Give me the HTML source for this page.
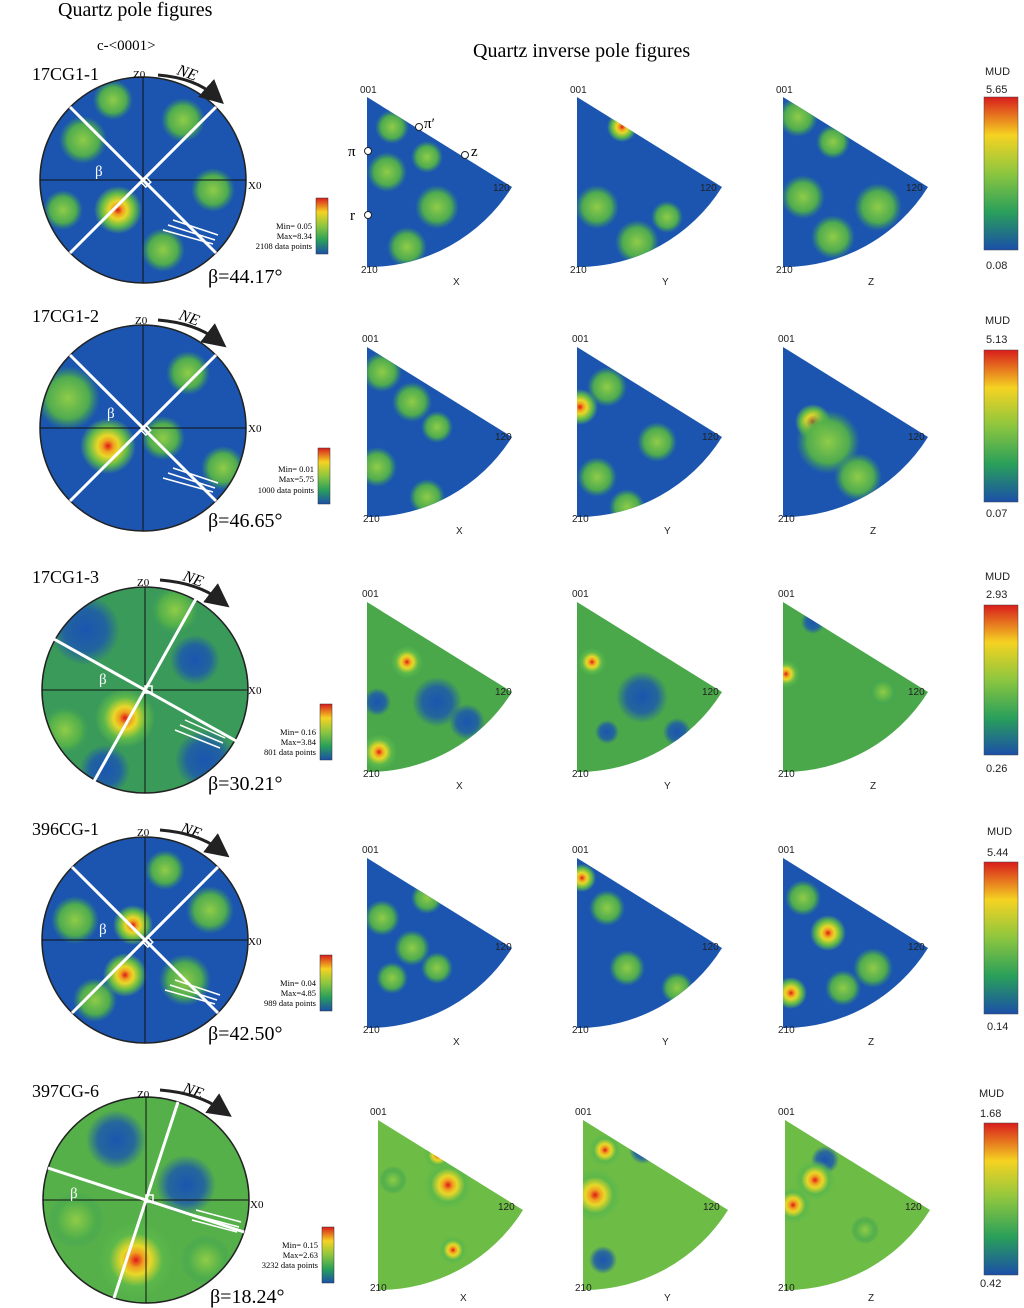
<!DOCTYPE html>
<html><head><meta charset="utf-8"><style>
html,body{margin:0;padding:0;background:#fff}
svg{display:block}
.s{font-family:"Liberation Serif",serif}
.a{font-family:"Liberation Sans",sans-serif}
</style></head><body>
<svg width="1024" height="1308" viewBox="0 0 1024 1308" xmlns="http://www.w3.org/2000/svg">
<defs>
<radialGradient id="g"><stop offset="0" stop-color="#8fcc48"/><stop offset="0.65" stop-color="#52b04a" stop-opacity="0.95"/><stop offset="1" stop-color="#3a9a5a" stop-opacity="0"/></radialGradient>
<radialGradient id="r"><stop offset="0" stop-color="#e01818"/><stop offset="0.2" stop-color="#f0a020"/><stop offset="0.38" stop-color="#e8d828"/><stop offset="0.7" stop-color="#5cb84a"/><stop offset="1" stop-color="#5cb84a" stop-opacity="0"/></radialGradient>
<radialGradient id="b"><stop offset="0" stop-color="#1b55b0"/><stop offset="0.6" stop-color="#1b55b0" stop-opacity="0.8"/><stop offset="1" stop-color="#1b55b0" stop-opacity="0"/></radialGradient>
<linearGradient id="cb" x1="0" y1="0" x2="0" y2="1"><stop offset="0" stop-color="#d81c1c"/><stop offset="0.25" stop-color="#f5d322"/><stop offset="0.5" stop-color="#8cc63f"/><stop offset="0.75" stop-color="#2aa05a"/><stop offset="1" stop-color="#1b4fa8"/></linearGradient>
<clipPath id="cc"><circle cx="0" cy="0" r="103"/></clipPath>
<clipPath id="sc"><path d="M0,0 L145,90 A170,170 0 0 1 0,170 Z"/></clipPath>
<marker id="ah" markerWidth="8" markerHeight="8" refX="4" refY="4" orient="auto"><path d="M0,0 L8,4 L0,8 Z" fill="#222"/></marker>
</defs>

<text class="s" x="58" y="16" font-size="20">Quartz pole figures</text>
<text class="s" x="97" y="50" font-size="15">c-&lt;0001&gt;</text>
<text class="s" x="473" y="57" font-size="20">Quartz inverse pole figures</text>

<g transform="translate(143,180)">
 <g clip-path="url(#cc)"><rect x="-110" y="-110" width="220" height="220" fill="#1b55b0"/>
  <circle cx="-60" cy="-40" r="24" fill="url(#g)"/><circle cx="40" cy="-60" r="22" fill="url(#g)"/><circle cx="-25" cy="30" r="24" fill="url(#r)"/><circle cx="70" cy="10" r="22" fill="url(#g)"/><circle cx="-80" cy="30" r="20" fill="url(#g)"/><circle cx="20" cy="70" r="22" fill="url(#g)"/><circle cx="-30" cy="-80" r="20" fill="url(#g)"/></g>
 <circle r="103" fill="none" stroke="#222" stroke-width="1.5"/>
 <line x1="-103" y1="0" x2="103" y2="0" stroke="#111"/><line x1="0" y1="-103" x2="0" y2="103" stroke="#111"/>
 <line x1="-73" y1="-73" x2="73" y2="73" stroke="#fff" stroke-width="3"/><line x1="73" y1="-73" x2="-73" y2="73" stroke="#fff" stroke-width="3"/>
 <rect x="0" y="-4" width="7" height="7" fill="none" stroke="#fff" stroke-width="1.5" transform="rotate(45)"/>
 <path d="M30,40 L75,55 M25,45 L72,60 M20,50 L70,64" stroke="#fff" stroke-width="1.5"/>
 <text class="s" x="-48" y="-4" font-size="15" fill="#fff">β</text>
</g>
<g transform="translate(143,428)">
 <g clip-path="url(#cc)"><rect x="-110" y="-110" width="220" height="220" fill="#1b55b0"/>
  <circle cx="-75" cy="-30" r="32" fill="url(#g)"/><circle cx="45" cy="-55" r="22" fill="url(#g)"/><circle cx="-35" cy="18" r="28" fill="url(#r)"/><circle cx="80" cy="40" r="22" fill="url(#g)"/><circle cx="20" cy="10" r="22" fill="url(#g)"/></g>
 <circle r="103" fill="none" stroke="#222" stroke-width="1.5"/>
 <line x1="-103" y1="0" x2="103" y2="0" stroke="#111"/><line x1="0" y1="-103" x2="0" y2="103" stroke="#111"/>
 <line x1="-73" y1="-73" x2="73" y2="73" stroke="#fff" stroke-width="3"/><line x1="73" y1="-73" x2="-73" y2="73" stroke="#fff" stroke-width="3"/>
 <rect x="0" y="-4" width="7" height="7" fill="none" stroke="#fff" stroke-width="1.5" transform="rotate(45)"/>
 <path d="M30,40 L75,55 M25,45 L72,60 M20,50 L70,64" stroke="#fff" stroke-width="1.5"/>
 <text class="s" x="-36" y="-10" font-size="15" fill="#fff">β</text>
</g>
<g transform="translate(145,690)">
 <g clip-path="url(#cc)"><rect x="-110" y="-110" width="220" height="220" fill="#3a9a5a"/>
  <circle cx="-60" cy="-60" r="35" fill="url(#b)"/><circle cx="50" cy="-30" r="25" fill="url(#b)"/><circle cx="60" cy="70" r="30" fill="url(#b)"/><circle cx="-20" cy="28" r="30" fill="url(#r)"/><circle cx="-80" cy="40" r="25" fill="url(#g)"/><circle cx="30" cy="-80" r="25" fill="url(#g)"/><circle cx="-40" cy="80" r="25" fill="url(#b)"/></g>
 <circle r="103" fill="none" stroke="#222" stroke-width="1.5"/>
 <line x1="-103" y1="0" x2="103" y2="0" stroke="#111"/><line x1="0" y1="-103" x2="0" y2="103" stroke="#111"/>
 <line x1="-52" y1="93" x2="52" y2="-93" stroke="#fff" stroke-width="3"/><line x1="-93" y1="-52" x2="93" y2="52" stroke="#fff" stroke-width="3"/>
 <rect x="0" y="-4" width="7" height="7" fill="none" stroke="#fff" stroke-width="1.5"/>
 <path d="M40,30 L80,48 M35,35 L78,53 M30,40 L75,58" stroke="#fff" stroke-width="1.5"/>
 <text class="s" x="-46" y="-6" font-size="15" fill="#fff">β</text>
</g>
<g transform="translate(145,940)">
 <g clip-path="url(#cc)"><rect x="-110" y="-110" width="220" height="220" fill="#1b55b0"/>
  <circle cx="-12" cy="-15" r="20" fill="url(#r)"/><circle cx="-20" cy="35" r="22" fill="url(#r)"/><circle cx="65" cy="-30" r="24" fill="url(#g)"/><circle cx="-70" cy="-20" r="24" fill="url(#g)"/><circle cx="40" cy="40" r="26" fill="url(#g)"/><circle cx="-50" cy="60" r="22" fill="url(#g)"/><circle cx="20" cy="-70" r="20" fill="url(#g)"/></g>
 <circle r="103" fill="none" stroke="#222" stroke-width="1.5"/>
 <line x1="-103" y1="0" x2="103" y2="0" stroke="#111"/><line x1="0" y1="-103" x2="0" y2="103" stroke="#111"/>
 <line x1="-73" y1="-73" x2="73" y2="73" stroke="#fff" stroke-width="3"/><line x1="73" y1="-73" x2="-73" y2="73" stroke="#fff" stroke-width="3"/>
 <rect x="0" y="-4" width="7" height="7" fill="none" stroke="#fff" stroke-width="1.5" transform="rotate(45)"/>
 <path d="M30,40 L75,55 M25,45 L72,60 M20,50 L70,64" stroke="#fff" stroke-width="1.5"/>
 <text class="s" x="-46" y="-6" font-size="15" fill="#fff">β</text>
</g>
<g transform="translate(146,1200)">
 <g clip-path="url(#cc)"><rect x="-110" y="-110" width="220" height="220" fill="#55b04a"/>
  <circle cx="-30" cy="-60" r="30" fill="url(#b)"/><circle cx="40" cy="-15" r="30" fill="url(#b)"/><circle cx="-10" cy="60" r="38" fill="url(#r)"/><circle cx="-70" cy="20" r="28" fill="url(#g)"/><circle cx="60" cy="60" r="25" fill="url(#g)"/></g>
 <circle r="103" fill="none" stroke="#222" stroke-width="1.5"/>
 <line x1="-103" y1="0" x2="103" y2="0" stroke="#111"/><line x1="0" y1="-103" x2="0" y2="103" stroke="#111"/>
 <line x1="-32" y1="98" x2="32" y2="-98" stroke="#fff" stroke-width="3"/><line x1="-98" y1="-32" x2="98" y2="32" stroke="#fff" stroke-width="3"/>
 <rect x="0" y="-5" width="7" height="7" fill="none" stroke="#fff" stroke-width="1.5"/>
 <path d="M50,10 L95,22 M48,15 L93,27 M46,20 L91,32" stroke="#fff" stroke-width="1.5"/>
 <text class="s" x="-76" y="-2" font-size="15" fill="#fff">β</text>
</g>

<g class="s" font-size="18">
<text x="32" y="80">17CG1-1</text><text x="32" y="322">17CG1-2</text><text x="32" y="583">17CG1-3</text><text x="32" y="835">396CG-1</text><text x="32" y="1097">397CG-6</text>
</g>
<g class="s" font-size="11">
<text x="133" y="78">Z0</text><text x="135" y="324">Z0</text><text x="137" y="586">Z0</text><text x="137" y="836">Z0</text><text x="137" y="1098">Z0</text>
<text x="248" y="189">X0</text><text x="248" y="432">X0</text><text x="248" y="694">X0</text><text x="248" y="945">X0</text><text x="250" y="1208">X0</text>
</g>
<g class="s" font-size="16" font-style="italic">
<text x="176" y="74" transform="rotate(20 176 74)">NE</text><text x="178" y="319" transform="rotate(20 178 319)">NE</text><text x="182" y="580" transform="rotate(20 182 580)">NE</text><text x="180" y="832" transform="rotate(20 180 832)">NE</text><text x="182" y="1092" transform="rotate(20 182 1092)">NE</text>
</g>
<g fill="none" stroke="#222" stroke-width="3" marker-end="url(#ah)">
<path d="M158,75 Q195,78 215,96"/><path d="M158,320 Q195,323 217,340"/><path d="M160,580 Q198,583 220,600"/><path d="M160,830 Q198,833 220,850"/><path d="M160,1090 Q198,1093 222,1110"/>
</g>
<g class="s" font-size="20">
<text x="208" y="283">β=44.17°</text><text x="208" y="527">β=46.65°</text><text x="208" y="790">β=30.21°</text><text x="208" y="1040">β=42.50°</text><text x="210" y="1303">β=18.24°</text>
</g>
<g stroke="#333" stroke-width="0.5">
<rect x="316" y="198" width="12" height="56" fill="url(#cb)"/><rect x="318" y="448" width="12" height="56" fill="url(#cb)"/><rect x="320" y="704" width="12" height="56" fill="url(#cb)"/><rect x="320" y="955" width="12" height="56" fill="url(#cb)"/><rect x="322" y="1227" width="12" height="56" fill="url(#cb)"/>
</g>
<g class="s" font-size="8.5" text-anchor="end">
<text x="312" y="229">Min= 0.05</text><text x="312" y="239">Max=8.34</text><text x="312" y="249">2108 data points</text>
<text x="314" y="472">Min= 0.01</text><text x="314" y="482">Max=5.75</text><text x="314" y="493">1000 data points</text>
<text x="316" y="735">Min= 0.16</text><text x="316" y="745">Max=3.84</text><text x="316" y="755">801 data points</text>
<text x="316" y="986">Min= 0.04</text><text x="316" y="996">Max=4.85</text><text x="316" y="1006">989 data points</text>
<text x="318" y="1248">Min= 0.15</text><text x="318" y="1258">Max=2.63</text><text x="318" y="1268">3232 data points</text>
</g>

<g transform="translate(367,97)"><g clip-path="url(#sc)"><rect x="-5" y="-5" width="180" height="180" fill="#1b55b0"/><circle cx="20" cy="75" r="20" fill="url(#g)"/><circle cx="70" cy="110" r="22" fill="url(#g)"/><circle cx="25" cy="30" r="17" fill="url(#g)"/><circle cx="40" cy="150" r="20" fill="url(#g)"/><circle cx="60" cy="60" r="16" fill="url(#g)"/></g></g>
<g transform="translate(577,97)"><g clip-path="url(#sc)"><rect x="-5" y="-5" width="180" height="180" fill="#1b55b0"/><circle cx="45" cy="30" r="15" fill="url(#r)"/><circle cx="20" cy="110" r="22" fill="url(#g)"/><circle cx="60" cy="145" r="22" fill="url(#g)"/><circle cx="90" cy="120" r="16" fill="url(#g)"/></g></g>
<g transform="translate(783,97)"><g clip-path="url(#sc)"><rect x="-5" y="-5" width="180" height="180" fill="#1b55b0"/><circle cx="15" cy="20" r="20" fill="url(#g)"/><circle cx="50" cy="45" r="17" fill="url(#g)"/><circle cx="95" cy="110" r="24" fill="url(#g)"/><circle cx="20" cy="100" r="22" fill="url(#g)"/><circle cx="50" cy="140" r="22" fill="url(#g)"/></g></g>
<g transform="translate(367,347)"><g clip-path="url(#sc)"><rect x="-5" y="-5" width="180" height="180" fill="#1b55b0"/><circle cx="15" cy="25" r="20" fill="url(#g)"/><circle cx="45" cy="55" r="20" fill="url(#g)"/><circle cx="70" cy="80" r="16" fill="url(#g)"/><circle cx="10" cy="120" r="20" fill="url(#g)"/><circle cx="60" cy="150" r="18" fill="url(#g)"/></g></g>
<g transform="translate(577,347)"><g clip-path="url(#sc)"><rect x="-5" y="-5" width="180" height="180" fill="#1b55b0"/><circle cx="3" cy="60" r="18" fill="url(#r)"/><circle cx="30" cy="40" r="20" fill="url(#g)"/><circle cx="80" cy="95" r="20" fill="url(#g)"/><circle cx="20" cy="130" r="20" fill="url(#g)"/><circle cx="50" cy="160" r="18" fill="url(#g)"/></g></g>
<g transform="translate(783,347)"><g clip-path="url(#sc)"><rect x="-5" y="-5" width="180" height="180" fill="#1b55b0"/><circle cx="30" cy="75" r="18" fill="url(#r)"/><circle cx="45" cy="95" r="32" fill="url(#g)"/><circle cx="75" cy="130" r="24" fill="url(#g)"/></g></g>
<g transform="translate(367,602)"><g clip-path="url(#sc)"><rect x="-5" y="-5" width="180" height="180" fill="#4aa84a"/><circle cx="70" cy="100" r="25" fill="url(#b)"/><circle cx="100" cy="120" r="18" fill="url(#b)"/><circle cx="40" cy="60" r="16" fill="url(#r)"/><circle cx="12" cy="150" r="18" fill="url(#r)"/><circle cx="10" cy="100" r="14" fill="url(#b)"/></g></g>
<g transform="translate(577,602)"><g clip-path="url(#sc)"><rect x="-5" y="-5" width="180" height="180" fill="#4aa84a"/><circle cx="15" cy="60" r="14" fill="url(#r)"/><circle cx="65" cy="95" r="26" fill="url(#b)"/><circle cx="100" cy="130" r="14" fill="url(#b)"/><circle cx="30" cy="130" r="12" fill="url(#b)"/></g></g>
<g transform="translate(783,602)"><g clip-path="url(#sc)"><rect x="-5" y="-5" width="180" height="180" fill="#4aa84a"/><circle cx="3" cy="72" r="14" fill="url(#r)"/><circle cx="30" cy="20" r="12" fill="url(#b)"/><circle cx="100" cy="90" r="14" fill="url(#g)"/></g></g>
<g transform="translate(367,858)"><g clip-path="url(#sc)"><rect x="-5" y="-5" width="180" height="180" fill="#1b55b0"/><circle cx="15" cy="60" r="18" fill="url(#g)"/><circle cx="45" cy="90" r="18" fill="url(#g)"/><circle cx="70" cy="110" r="16" fill="url(#g)"/><circle cx="25" cy="120" r="16" fill="url(#g)"/><circle cx="60" cy="40" r="16" fill="url(#g)"/></g></g>
<g transform="translate(577,858)"><g clip-path="url(#sc)"><rect x="-5" y="-5" width="180" height="180" fill="#1b55b0"/><circle cx="5" cy="20" r="14" fill="url(#r)"/><circle cx="30" cy="50" r="18" fill="url(#g)"/><circle cx="50" cy="110" r="18" fill="url(#g)"/><circle cx="100" cy="130" r="16" fill="url(#g)"/></g></g>
<g transform="translate(783,858)"><g clip-path="url(#sc)"><rect x="-5" y="-5" width="180" height="180" fill="#1b55b0"/><circle cx="45" cy="75" r="18" fill="url(#r)"/><circle cx="8" cy="135" r="16" fill="url(#r)"/><circle cx="20" cy="40" r="18" fill="url(#g)"/><circle cx="90" cy="110" r="20" fill="url(#g)"/><circle cx="60" cy="130" r="18" fill="url(#g)"/></g></g>
<g transform="translate(378,1120)"><g clip-path="url(#sc)"><rect x="-5" y="-5" width="180" height="180" fill="#6cbc46"/><circle cx="70" cy="65" r="24" fill="url(#r)"/><circle cx="60" cy="35" r="14" fill="url(#r)"/><circle cx="75" cy="130" r="14" fill="url(#r)"/><circle cx="15" cy="60" r="14" fill="url(#g)"/></g></g>
<g transform="translate(583,1120)"><g clip-path="url(#sc)"><rect x="-5" y="-5" width="180" height="180" fill="#6cbc46"/><circle cx="12" cy="75" r="26" fill="url(#r)"/><circle cx="22" cy="30" r="16" fill="url(#r)"/><circle cx="60" cy="30" r="14" fill="url(#b)"/><circle cx="20" cy="140" r="14" fill="url(#b)"/></g></g>
<g transform="translate(785,1120)"><g clip-path="url(#sc)"><rect x="-5" y="-5" width="180" height="180" fill="#6cbc46"/><circle cx="8" cy="85" r="18" fill="url(#r)"/><circle cx="40" cy="40" r="14" fill="url(#b)"/><circle cx="30" cy="60" r="20" fill="url(#r)"/><circle cx="80" cy="110" r="14" fill="url(#g)"/></g></g>

<g class="a" font-size="10" fill="#222">
<text x="360" y="93">001</text><text x="570" y="93">001</text><text x="776" y="93">001</text>
<text x="361" y="273">210</text><text x="570" y="273">210</text><text x="776" y="273">210</text>
<text x="493" y="191">120</text><text x="700" y="191">120</text><text x="906" y="191">120</text>
<text x="453" y="285">X</text><text x="662" y="285">Y</text><text x="868" y="285">Z</text>
<text x="362" y="342">001</text><text x="572" y="342">001</text><text x="778" y="342">001</text>
<text x="363" y="522">210</text><text x="572" y="522">210</text><text x="778" y="522">210</text>
<text x="495" y="440">120</text><text x="702" y="440">120</text><text x="908" y="440">120</text>
<text x="456" y="534">X</text><text x="664" y="534">Y</text><text x="870" y="534">Z</text>
<text x="362" y="597">001</text><text x="572" y="597">001</text><text x="778" y="597">001</text>
<text x="363" y="777">210</text><text x="572" y="777">210</text><text x="778" y="777">210</text>
<text x="495" y="695">120</text><text x="702" y="695">120</text><text x="908" y="695">120</text>
<text x="456" y="789">X</text><text x="664" y="789">Y</text><text x="870" y="789">Z</text>
<text x="362" y="853">001</text><text x="572" y="853">001</text><text x="778" y="853">001</text>
<text x="363" y="1033">210</text><text x="572" y="1033">210</text><text x="778" y="1033">210</text>
<text x="495" y="950">120</text><text x="702" y="950">120</text><text x="908" y="950">120</text>
<text x="453" y="1045">X</text><text x="662" y="1045">Y</text><text x="868" y="1045">Z</text>
<text x="370" y="1115">001</text><text x="575" y="1115">001</text><text x="778" y="1115">001</text>
<text x="370" y="1291">210</text><text x="575" y="1291">210</text><text x="778" y="1291">210</text>
<text x="498" y="1210">120</text><text x="703" y="1210">120</text><text x="905" y="1210">120</text>
<text x="460" y="1301">X</text><text x="664" y="1301">Y</text><text x="868" y="1301">Z</text>
</g>
<g fill="#fff" stroke="#222"><circle cx="419" cy="127" r="3.5"/><circle cx="368" cy="151" r="3.5"/><circle cx="465" cy="155" r="3.5"/><circle cx="368" cy="215" r="3.5"/></g>
<g class="s" font-size="15"><text x="424" y="128">π′</text><text x="348" y="156">π</text><text x="471" y="156">z</text><text x="350" y="220">r</text></g>

<g stroke="#444" stroke-width="0.5">
<rect x="984" y="97" width="34" height="153" fill="url(#cb)"/><rect x="984" y="350" width="34" height="152" fill="url(#cb)"/><rect x="984" y="605" width="34" height="150" fill="url(#cb)"/><rect x="984" y="862" width="34" height="152" fill="url(#cb)"/><rect x="984" y="1123" width="34" height="152" fill="url(#cb)"/>
</g>
<g class="a" font-size="11" fill="#222">
<text x="985" y="75">MUD</text><text x="986" y="93">5.65</text><text x="986" y="269">0.08</text>
<text x="985" y="324">MUD</text><text x="986" y="343">5.13</text><text x="986" y="517">0.07</text>
<text x="985" y="580">MUD</text><text x="986" y="598">2.93</text><text x="986" y="772">0.26</text>
<text x="987" y="835">MUD</text><text x="987" y="856">5.44</text><text x="987" y="1030">0.14</text>
<text x="979" y="1097">MUD</text><text x="980" y="1117">1.68</text><text x="980" y="1287">0.42</text>
</g>
</svg>
</body></html>
